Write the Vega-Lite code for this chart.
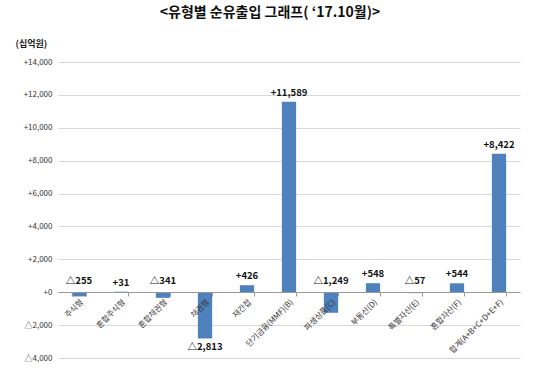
{
  "$schema": "https://vega.github.io/schema/vega-lite/v6.json",
  "width": 462,
  "height": 296,
  "autosize": {"type": "none"},
  "padding": {"left": 58, "top": 62, "right": 20, "bottom": 10},
  "background": "white",
  "config": {
    "font": "Noto Sans CJK KR",
    "view": {"stroke": null}
  },
  "title": {
    "text": "<유형별 순유출입 그래프( ‘17.10월)>",
    "fontSize": 14,
    "fontWeight": "bold",
    "color": "#111",
    "offset": 19,
    "dx": -19,
    "anchor": "middle"
  },
  "data": {
    "values": [
      {"cat": "주식형", "value": -255, "label": "△255"},
      {"cat": "혼합주식형", "value": 31, "label": "+31"},
      {"cat": "혼합채권형", "value": -341, "label": "△341"},
      {"cat": "채권형", "value": -2813, "label": "△2,813"},
      {"cat": "재간접", "value": 426, "label": "+426"},
      {"cat": "단기금융(MMF)(B)", "value": 11589, "label": "+11,589"},
      {"cat": "파생상품(C)", "value": -1249, "label": "△1,249"},
      {"cat": "부동산(D)", "value": 548, "label": "+548"},
      {"cat": "특별자산(E)", "value": -57, "label": "△57"},
      {"cat": "혼합자산(F)", "value": 544, "label": "+544"},
      {"cat": "합계(A+B+C+D+E+F)", "value": 8422, "label": "+8,422"}
    ]
  },
  "encoding": {
    "x": {
      "field": "cat",
      "type": "nominal",
      "sort": null,
      "scale": {"paddingInner": 0.66, "paddingOuter": 0.33},
      "axis": {
        "title": null,
        "labelAngle": -45,
        "labelFontSize": 8,
        "labelColor": "#333",
        "offset": -66,
        "domainColor": "#999",
        "tickColor": "#999",
        "tickBand": "extent",
        "tickSize": 4,
        "labelPadding": 2,
        "zindex": 1
      }
    },
    "y": {
      "field": "value",
      "type": "quantitative",
      "scale": {"domain": [-4000, 14000], "nice": false},
      "axis": {
        "values": [-4000, -2000, 0, 2000, 4000, 6000, 8000, 10000, 12000, 14000],
        "labelExpr": "datum.value > 0 ? '+' + format(datum.value, ',') : (datum.value < 0 ? '△' + format(-datum.value, ',') : '+0')",
        "labelFontSize": 8,
        "labelColor": "#333",
        "labelOverlap": false,
        "ticks": false,
        "domain": false,
        "labelPadding": 6,
        "gridColor": "#d9d9d9",
        "title": "(십억원)",
        "titleAngle": 0,
        "titleAlign": "left",
        "titleBaseline": "middle",
        "titleX": -43,
        "titleY": -19,
        "titleFontSize": 9,
        "titleFontWeight": "bold",
        "titleColor": "#222"
      }
    }
  },
  "layer": [
    {
      "mark": {"type": "bar", "color": "#4F81BD"}
    },
    {
      "transform": [{"filter": "datum.value >= 0"}],
      "mark": {"type": "text", "baseline": "bottom", "dy": -4, "fontSize": 9.5, "fontWeight": "bold", "color": "#111"},
      "encoding": {
        "text": {"field": "label"}
      }
    },
    {
      "transform": [{"filter": "datum.value < 0 && datum.value > -2000"}],
      "mark": {"type": "text", "baseline": "bottom", "dy": -6, "fontSize": 9.5, "fontWeight": "bold", "color": "#111"},
      "encoding": {
        "y": {"datum": 0, "type": "quantitative"},
        "text": {"field": "label"}
      }
    },
    {
      "transform": [{"filter": "datum.value <= -2000"}],
      "mark": {"type": "text", "baseline": "top", "dy": 4, "fontSize": 9.5, "fontWeight": "bold", "color": "#111"},
      "encoding": {
        "text": {"field": "label"}
      }
    }
  ]
}
